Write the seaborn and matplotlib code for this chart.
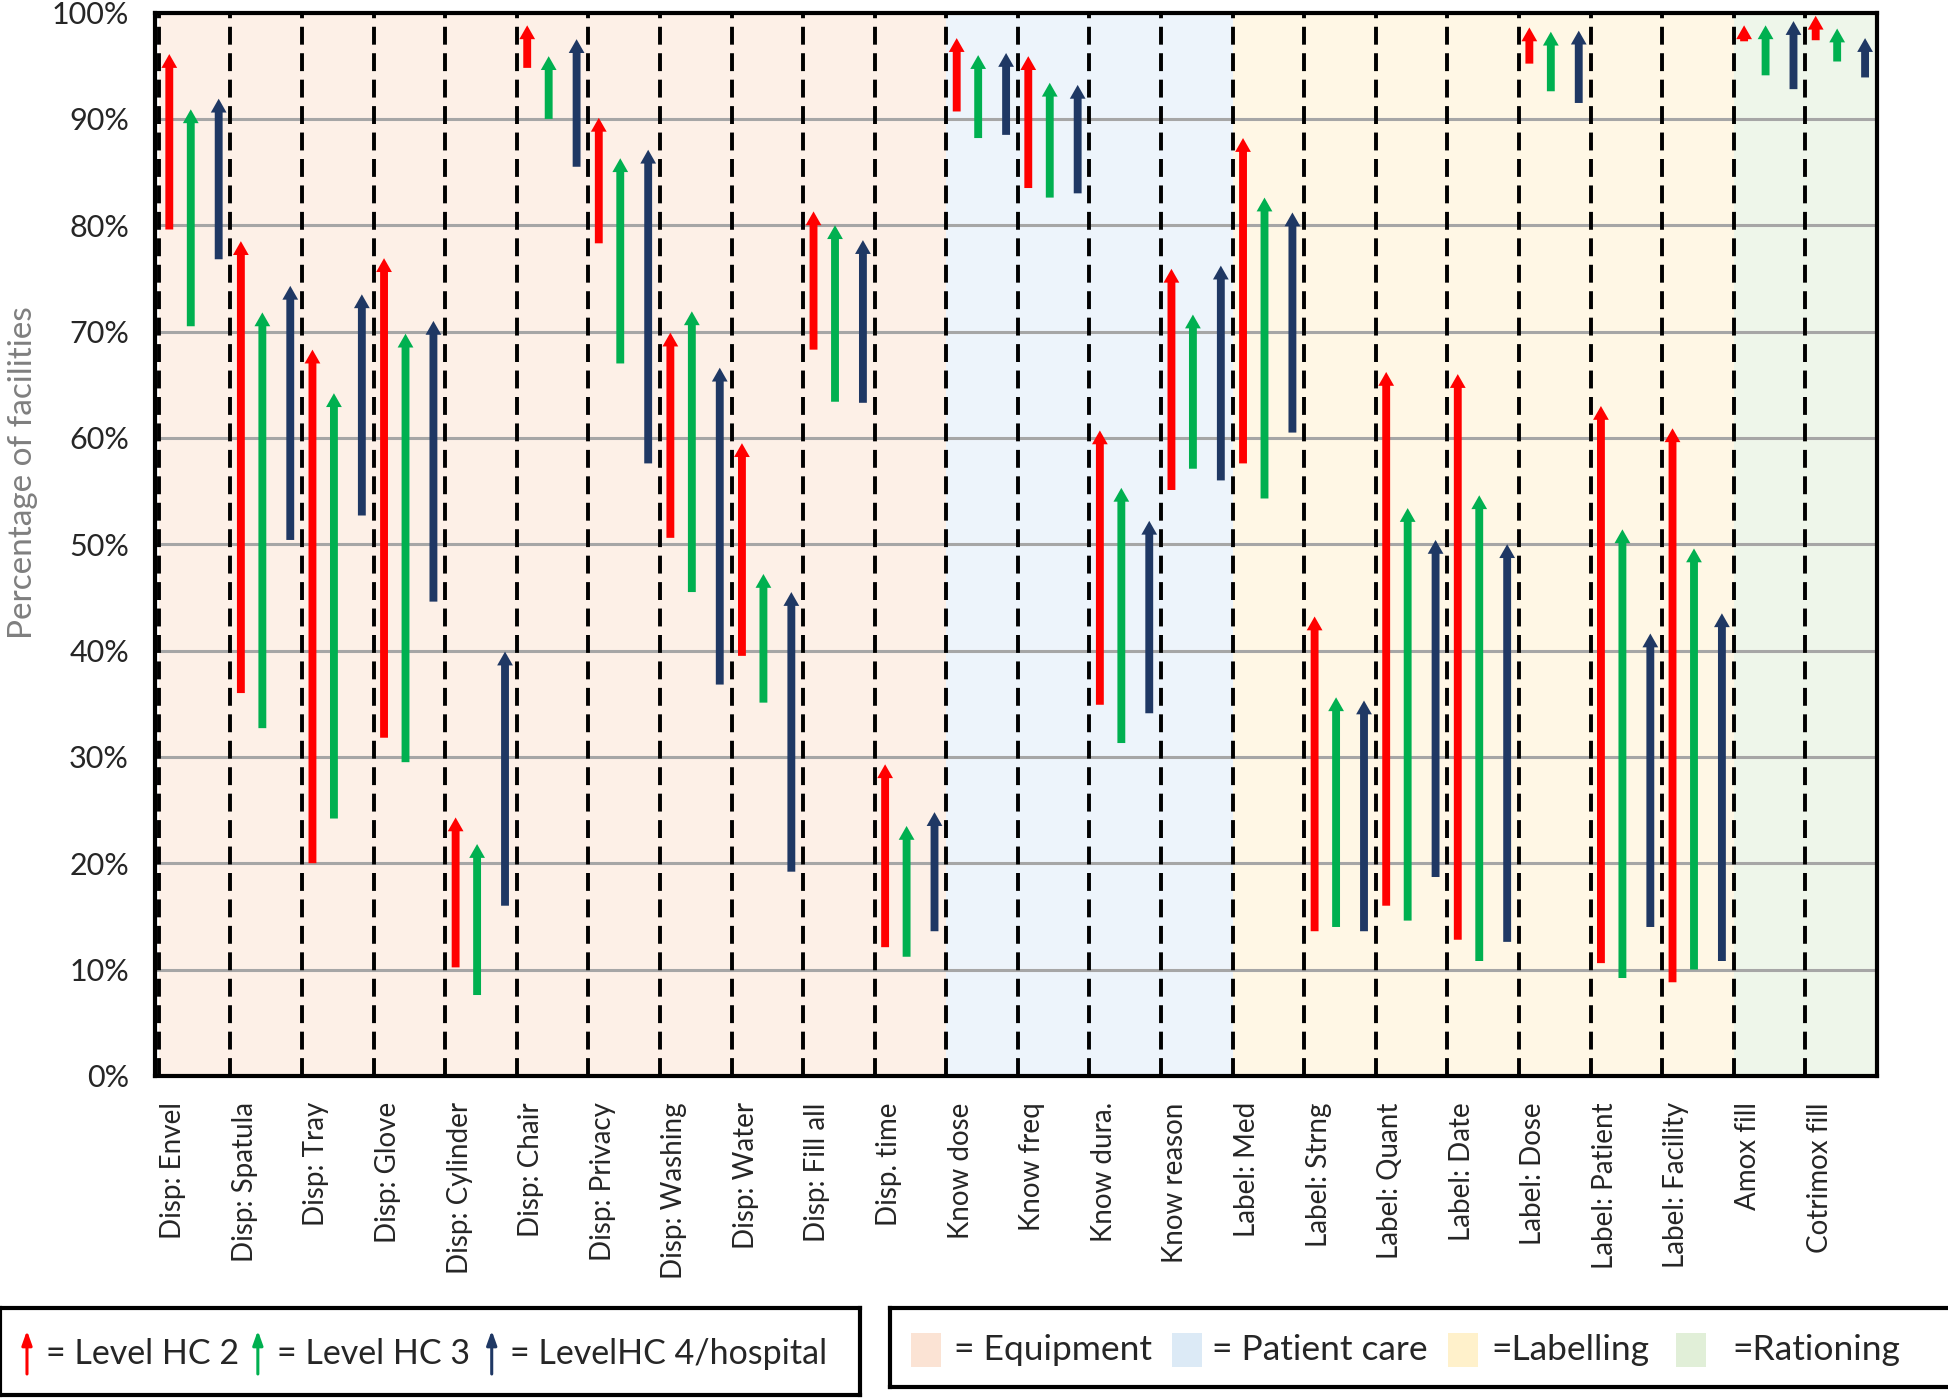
import matplotlib
matplotlib.use("Agg")
import matplotlib.pyplot as plt
from matplotlib.patches import Rectangle
import seaborn as sns
import pandas as pd

# categories (x axis) and the group each one belongs to
categories = [
    "Disp: Envel", "Disp: Spatula", "Disp: Tray", "Disp: Glove", "Disp: Cylinder",
    "Disp: Chair", "Disp: Privacy", "Disp: Washing", "Disp: Water", "Disp: Fill all",
    "Disp. time", "Know dose", "Know freq", "Know dura.", "Know reason",
    "Label: Med", "Label: Strng", "Label: Quant", "Label: Date", "Label: Dose",
    "Label: Patient", "Label: Facility", "Amox fill", "Cotrimox fill",
]
groups = ["Equipment"] * 11 + ["Patient care"] * 4 + ["Labelling"] * 7 + ["Rationing"] * 2

# percentage of facilities: arrow start (before) and end (after) per level
hc2_start = [79.6, 36.0, 20.0, 31.8, 10.2, 94.8, 78.3, 50.6, 39.5, 68.3, 12.1, 90.7,
             83.5, 34.9, 55.1, 57.6, 13.6, 16.0, 12.8, 95.2, 10.6, 8.8, 97.3, 97.4]
hc2_end = [96.1, 78.5, 68.3, 76.9, 24.3, 98.8, 90.1, 69.9, 59.5, 81.3, 29.3, 97.6,
           95.9, 60.7, 75.9, 88.2, 43.2, 66.2, 66.0, 98.6, 63.0, 60.9, 98.8, 99.7]
hc3_start = [70.5, 32.7, 24.2, 29.5, 7.6, 90.0, 67.0, 45.5, 35.1, 63.4, 11.2, 88.2,
             82.6, 31.3, 57.1, 54.3, 14.0, 14.6, 10.8, 92.6, 9.2, 10.0, 94.1, 95.4]
hc3_end = [90.9, 71.8, 64.2, 69.8, 21.8, 95.9, 86.3, 71.9, 47.2, 80.0, 23.5, 96.0,
           93.4, 55.3, 71.6, 82.6, 35.6, 53.4, 54.6, 98.2, 51.4, 49.6, 98.8, 98.5]
hc4_start = [76.8, 50.4, 52.7, 44.6, 16.0, 85.5, 57.6, 36.8, 19.2, 63.3, 13.6, 88.5,
             83.0, 34.1, 56.0, 60.5, 13.6, 18.7, 12.6, 91.5, 14.0, 10.8, 92.8, 93.9]
hc4_end = [91.9, 74.3, 73.5, 71.0, 39.9, 97.5, 87.1, 66.6, 45.5, 78.6, 24.8, 96.2,
           93.2, 52.2, 76.2, 81.2, 35.3, 50.4, 50.0, 98.3, 41.6, 43.5, 99.2, 97.6]

levels = ["Level HC 2", "Level HC 3", "LevelHC 4/hospital"]
level_colors = ["#FF0000", "#00B050", "#1F3864"]
level_offsets = [0.145, 0.445, 0.835]

group_colors = {"Equipment": "#FDF0E7", "Patient care": "#EDF4FB",
                "Labelling": "#FFF7E5", "Rationing": "#EEF6EA"}
group_legend_colors = {"Equipment": "#FBE3D4", "Patient care": "#DCEAF6",
                       "Labelling": "#FFF1CB", "Rationing": "#E1EFD8"}

df = pd.DataFrame({
    "category": categories * 3,
    "level": sum([[lv] * len(categories) for lv in levels], []),
    "start": hc2_start + hc3_start + hc4_start,
    "end": hc2_end + hc3_end + hc4_end,
})
df["pos"] = list(range(len(categories))) * 3

sns.set_theme(style="white")
plt.rcParams["font.family"] = ["Lato", "DejaVu Sans"]

fig = plt.figure(figsize=(19.49, 13.99), dpi=100)
ax = fig.add_axes([0.0797, 0.231, 0.8833, 0.760])

# group shading
grp = pd.Series(groups)
for g in group_colors:
    idx = grp.index[grp == g]
    ax.axvspan(idx.min(), idx.max() + 1, color=group_colors[g], lw=0, zorder=0)

for y in range(10, 101, 10):
    ax.axhline(y, color="#A6A6A6", lw=2.2, zorder=1)
for i in range(len(categories)):
    ax.axvline(i, color="black", lw=2.8, ls=(0, (4.6, 2.2)), zorder=2)

for lv, col, off in zip(levels, level_colors, level_offsets):
    sub = df[df["level"] == lv]
    for _, r in sub.iterrows():
        ax.arrow(r["pos"] + off, r["start"], 0, r["end"] - r["start"],
                 width=0.11, head_width=0.22, head_length=1.3,
                 length_includes_head=True, color=col, lw=0, zorder=3)

ax.set_xlim(-0.05, len(categories))
ax.set_ylim(0, 100)
ax.set_yticks(range(0, 101, 10))
ax.set_yticklabels([f"{v}%" for v in range(0, 101, 10)], fontsize=22)
ax.set_xticks([i + 0.2 for i in range(len(categories))])
ax.set_xticklabels(categories, rotation=90, fontsize=20, va="top", ha="center")
ax.tick_params(axis="x", length=0, pad=19)
ax.tick_params(axis="y", length=0, pad=19)
ax.set_ylabel("Percentage of facilities", fontsize=24, color="#7F7F7F")
ax.yaxis.set_label_coords(-0.068, 0.567)
for s in ax.spines.values():
    s.set_color("black")
    s.set_linewidth(3)
    s.set_zorder(5)
ax.grid(False)

# legend box 1: arrow levels
lg1 = fig.add_axes([0.0, 0.003, 0.441, 0.062])
lg1.set_xlim(0, 860)
lg1.set_ylim(0, 1)
lg1.set_xticks([])
lg1.set_yticks([])
for s in lg1.spines.values():
    s.set_linewidth(3)
    s.set_color("black")
for lv, col, ax_x, tx_x in zip(levels, level_colors, [27, 258, 492], [46, 277, 510]):
    lg1.annotate("", xy=(ax_x, 0.74), xytext=(ax_x, 0.24),
                 arrowprops=dict(arrowstyle="-|>,head_length=0.7,head_width=0.25",
                                 color=col, lw=2.2, shrinkA=0, shrinkB=0))
    lg1.text(tx_x, 0.47, "= " + lv, fontsize=24.5, va="center", ha="left")

# legend box 2: group shading
lg2 = fig.add_axes([0.4567, 0.0086, 0.545, 0.0565])
lg2.set_xlim(0, 1062)
lg2.set_ylim(0, 1)
lg2.set_xticks([])
lg2.set_yticks([])
for s in lg2.spines.values():
    s.set_linewidth(3)
    s.set_color("black")
legend_labels = ["= Equipment", "= Patient care", "=Labelling", "=Rationing"]
for g, lab, px, tx in zip(group_legend_colors, legend_labels, [21, 282, 558, 786],
                          [64, 322, 601, 842]):
    lg2.add_patch(Rectangle((px, 0.25), 30, 0.43, color=group_legend_colors[g], lw=0))
    lg2.text(tx, 0.47, lab, fontsize=25.5, va="center", ha="left")

fig.savefig("out.png", dpi=100)
